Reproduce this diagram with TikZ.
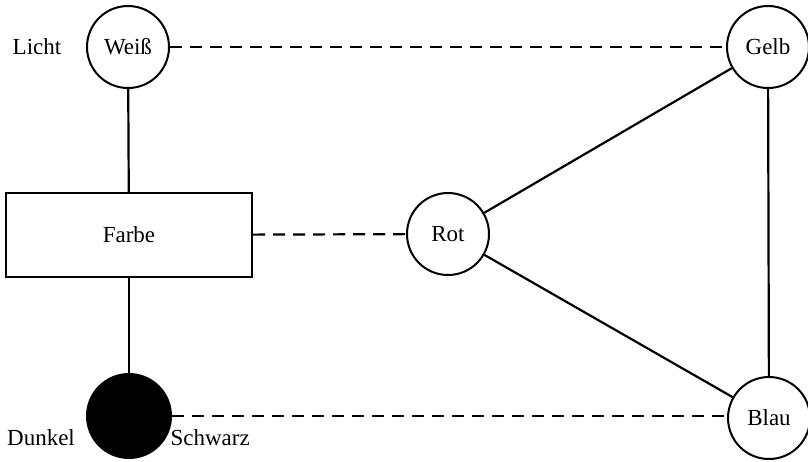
\documentclass[tikz,border=0pt]{standalone}
\usepackage{fontspec}
\setmainfont{Liberation Serif}
\usetikzlibrary{calc}

\tikzset{
    farbkreis/.style={draw, circle, line width=2pt, minimum size=82pt, inner sep=0pt, font=\fontsize{23}{27}\selectfont},
    farbkasten/.style={draw, rectangle, line width=2pt, minimum width=246pt, minimum height=84pt, font=\fontsize{23}{27}\selectfont},
    beschriftung/.style={font=\fontsize{23}{27}\selectfont},
    voll/.style={line width=2.2pt},
    gestrichelt/.style={line width=2.2pt, dash pattern=on 12pt off 8pt},
}

\begin{document}
\begin{tikzpicture}[x=1pt, y=-1pt]
        \useasboundingbox (0,0) rectangle (808,461);

        %% linke Seite
        \node [farbkreis] (weiss) at (128,47) {Weiß};
        \node [farbkasten] (farbe) at (129,235) {Farbe};
        \node [farbkreis, fill=black, minimum size=84pt] (schwarz) at (129,416) {};

        \node [beschriftung] (licht) at (37,47) {Licht};
        \node [beschriftung] (dunkel) at (41,438) {Dunkel};
        \node [beschriftung, anchor=west] (schwarztext) at (167,438) {Schwarz};

        %% rechte Seite
        \node [farbkreis] (rot) at (448,234) {Rot};
        \node [farbkreis] (gelb) at (768,47) {Gelb};
        \node [farbkreis] (blau) at (769,418) {Blau};

        %% durchgezogene Linien
        \draw [voll] (weiss) -- (farbe);
        \draw [voll] (farbe) -- (schwarz);
        \draw [voll] (rot) -- (gelb);
        \draw [voll] (rot) -- (blau);
        \draw [voll] (gelb) -- (blau);

        %% gestrichelte Linien
        \draw [gestrichelt] (weiss) -- (gelb);
        \draw [gestrichelt] (farbe) -- (rot);
        \draw [gestrichelt] (schwarz) -- (schwarz -| blau.west);

    \end{tikzpicture}
\end{document}
